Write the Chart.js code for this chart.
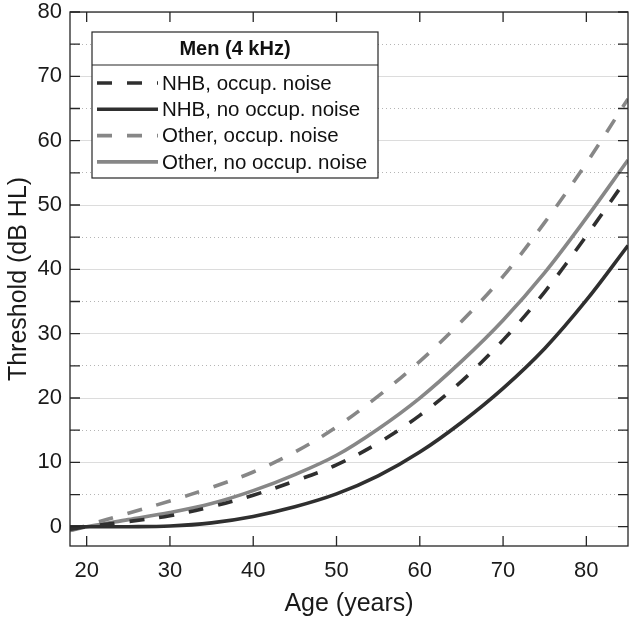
<!DOCTYPE html>
<html>
<head>
<meta charset="utf-8">
<script src="https://cdn.jsdelivr.net/npm/chart.js@4.4.1/dist/chart.umd.min.js"></script>
<style>
html,body{margin:0;padding:0;background:#fff;}
#wrap{width:632px;height:623px;position:relative;}
</style>
</head>
<body>
<div id="wrap"><canvas id="chart"></canvas></div>
<script>
const ages = [18,20,25,30,35,40,45,50,55,60,65,70,75,80,85];
const nhbOccup = [-0.4,0,0.8,1.7,3.1,4.9,7.1,9.6,13.0,17.3,22.6,29.0,36.5,45.2,54.4];
const nhbNoOccup = [0,0,0,0.1,0.6,1.6,3.1,5.1,7.9,11.6,16.2,21.5,27.7,35.2,43.7];
const otherOccup = [-0.6,0.2,2.1,4.0,6.1,8.5,11.6,15.5,20.3,25.7,31.9,38.9,47.3,56.5,66.5];
const otherNoOccup = [-0.6,0,1.1,2.2,3.6,5.6,8.1,11.1,15.2,20.0,25.7,32.1,39.5,48.0,57.0];
const xTicks = [20,30,40,50,60,70,80];
const yTicks = [0,5,10,15,20,25,30,35,40,45,50,55,60,65,70,75,80];
const seriesNames = ["NHB, occup. noise","NHB, no occup. noise","Other, occup. noise","Other, no occup. noise"];
const legendTitle = "Men (4 kHz)";

const dark = "#2f2f2f", grey = "#878787";
const font = "'Liberation Sans', Arial, sans-serif";

function pts(arr){ return ages.map((a,i)=>({x:a,y:arr[i]})); }
function ds(label,data,color,dash){
    return { label, data:pts(data), borderColor:color, backgroundColor:color, borderWidth:3.6,
        borderDash:dash, pointRadius:0, tension:0.35, fill:false, borderCapStyle:"butt" };
}

// inside tick marks + box, MATLAB style
const boxPlugin = {
    id:"box",
    afterDatasetsDraw(chart){
        const {ctx, chartArea:a, scales:{x,y}} = chart;
        ctx.save();
        ctx.strokeStyle = "#262626";
        ctx.lineWidth = 1.3;
        ctx.beginPath();
        xTicks.forEach(v=>{
            const px = x.getPixelForValue(v);
            ctx.moveTo(px,a.bottom); ctx.lineTo(px,a.bottom-10);
            ctx.moveTo(px,a.top); ctx.lineTo(px,a.top+10);
        });
        yTicks.forEach(v=>{
            const py = y.getPixelForValue(v);
            ctx.moveTo(a.left,py); ctx.lineTo(a.left+10,py);
            ctx.moveTo(a.right,py); ctx.lineTo(a.right-10,py);
        });
        ctx.stroke();
        ctx.strokeRect(a.left,a.top,a.right-a.left,a.bottom-a.top);
        ctx.restore();
    }
};

const legendPlugin = {
    id:"boxLegend",
    afterDraw(chart){
        const {ctx, chartArea:a} = chart;
        const bx = a.left+22, by = a.top+20, bw = 286, bh = 146, th = 33, rowH = 26.3;
        ctx.save();
        ctx.fillStyle = "#fff";
        ctx.fillRect(bx,by,bw,bh);
        ctx.strokeStyle = "#262626";
        ctx.lineWidth = 1.2;
        ctx.strokeRect(bx,by,bw,bh);
        ctx.beginPath(); ctx.moveTo(bx,by+th); ctx.lineTo(bx+bw,by+th); ctx.stroke();
        ctx.fillStyle = "#111";
        ctx.font = "bold 20px "+font;
        ctx.textAlign = "center"; ctx.textBaseline = "middle";
        ctx.fillText(legendTitle, bx+bw/2, by+th/2+1);
        ctx.font = "20.5px "+font;
        ctx.textAlign = "left";
        chart.data.datasets.forEach((d,i)=>{
            const cy = by+th+18+i*rowH;
            ctx.strokeStyle = d.borderColor;
            ctx.lineWidth = d.borderWidth;
            ctx.setLineDash(d.borderDash||[]);
            ctx.beginPath(); ctx.moveTo(bx+5,cy); ctx.lineTo(bx+66,cy); ctx.stroke();
            ctx.setLineDash([]);
            ctx.fillStyle = "#111";
            ctx.fillText(d.label, bx+70, cy+1);
        });
        ctx.restore();
    }
};

new Chart(document.getElementById("chart"),{
    type:"line",
    data:{
        datasets:[
            ds(seriesNames[0],nhbOccup,dark,[15,15]),
            ds(seriesNames[1],nhbNoOccup,dark,[]),
            ds(seriesNames[2],otherOccup,grey,[15,15]),
            ds(seriesNames[3],otherNoOccup,grey,[])
        ]
    },
    options:{
        responsive:true, maintainAspectRatio:false, animation:false,
        layout:{ padding:{ top:12, right:4, left:0, bottom:0 } },
        plugins:{ legend:{display:false}, tooltip:{enabled:false} },
        scales:{
            x:{
                type:"linear", min:18, max:85,
                afterBuildTicks:s=>{ s.ticks = xTicks.map(v=>({value:v})); },
                afterFit:s=>{ s.height = 77; s.paddingLeft = 0; s.paddingRight = 0; },
                grid:{ display:false, drawTicks:false },
                border:{ display:false },
                ticks:{ color:"#1a1a1a", font:{family:font,size:22}, padding:12, maxRotation:0 },
                title:{ display:true, text:"Age (years)", color:"#1a1a1a", font:{family:font,size:25}, padding:{top:3} }
            },
            y:{
                min:-3, max:80,
                afterBuildTicks:s=>{ s.ticks = yTicks.map(v=>({value:v})); },
                afterFit:s=>{ s.width = 70; s.paddingTop = 0; s.paddingBottom = 0; },
                grid:{ drawTicks:false, lineWidth:1,
                    color:c=> c.tick && c.tick.value%10!==0 ? "#b5b5b5" : "#dcdcdc" },
                border:{ display:false, dash:c=> c.tick && c.tick.value%10!==0 ? [1,3] : [] },
                ticks:{ color:"#1a1a1a", font:{family:font,size:22}, padding:8,
                    callback:v=> v%10===0 ? v : "" },
                title:{ display:true, text:"Threshold (dB HL)", color:"#1a1a1a", font:{family:font,size:25}, padding:{bottom:1} }
            }
        }
    },
    plugins:[boxPlugin,legendPlugin]
});
</script>
</body>
</html>
